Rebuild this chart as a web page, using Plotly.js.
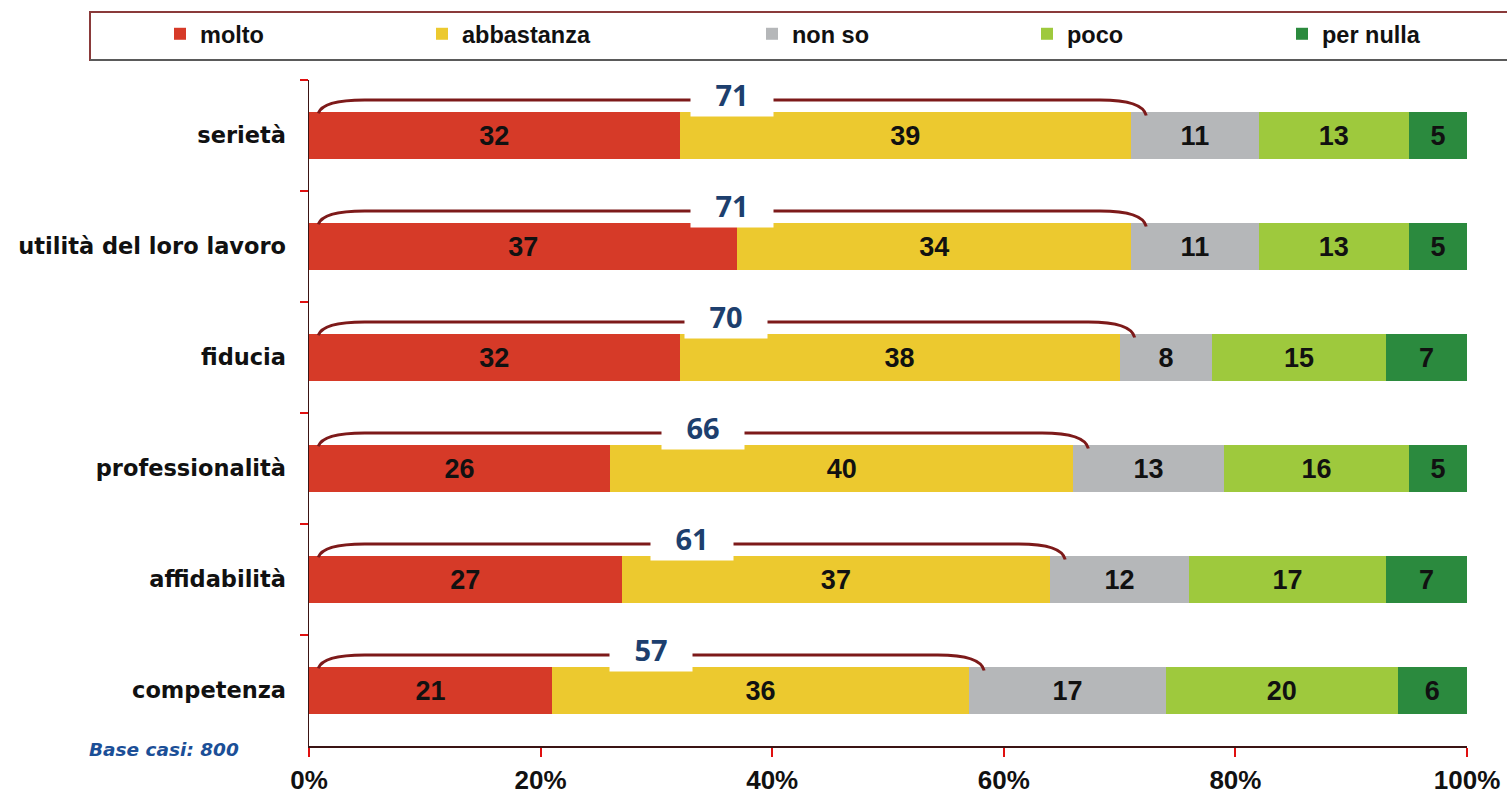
<!DOCTYPE html>
<html>
<head>
<meta charset="utf-8">
<script src="https://cdn.plot.ly/plotly-3.0.1.min.js"></script>
<style>html,body{margin:0;padding:0;background:#fff;}#chart{width:1507px;height:800px;}</style>
</head>
<body>
<div id="chart"></div>
<script>
// ---- data ----
var categories = ["serietà", "utilità del loro lavoro", "fiducia", "professionalità", "affidabilità", "competenza"];
var seriesNames = ["molto", "abbastanza", "non so", "poco", "per nulla"];
var molto      = [32, 37, 32, 26, 27, 21];
var abbastanza = [39, 34, 38, 40, 37, 36];
var nonSo      = [11, 11, 8, 13, 12, 17];
var poco       = [13, 13, 15, 16, 17, 20];
var perNulla   = [5, 5, 7, 5, 7, 6];
var totals     = [71, 71, 70, 66, 61, 57];
var xTickVals  = [0, 20, 40, 60, 80, 100];
var xTickText  = ["0%", "20%", "40%", "60%", "80%", "100%"];
var baseNote   = "Base casi: 800";

// ---- styling ----
var colors = ["#d63a28", "#ecc92f", "#b5b7b9", "#9ec93d", "#2b8a3e"];
var seriesValues = [molto, abbastanza, nonSo, poco, perNulla];
var legendIds = ["legend", "legend2", "legend3", "legend4", "legend5"];
var legendTextPx = [200, 462, 792, 1067, 1322];
var plotL = 309, plotR = 1467, plotT = 80, plotB = 746;
var pw = plotR - plotL, ph = plotB - plotT;
function px2x(p){ return (p - plotL) / pw; }
function py2y(p){ return (plotB - p) / ph; }

var barFont = {family: "Liberation Sans, Arial, sans-serif", size: 27, color: "#111", weight: "bold"};
var traces = seriesNames.map(function(name, k){
  return {
    type: "bar", orientation: "h", name: name,
    y: categories, x: seriesValues[k],
    marker: {color: colors[k], line: {width: 0}},
    text: seriesValues[k].map(String),
    textposition: "inside", insidetextanchor: "middle", textangle: 0,
    constraintext: "none",
    insidetextfont: barFont, textfont: barFont,
    hoverinfo: "x+y+name",
    legend: legendIds[k]
  };
});

var braceColor = "#7d1a1a";
var lineOff = 0.32, curlOff = 0.2;
var shapes = [];
var annotations = [];
categories.forEach(function(c, i){
  var x0 = 0.8;
  var xe = molto[i] + abbastanza[i] + 1.3;
  var yl = i - lineOff, yc = i - curlOff;
  var path = "M " + x0 + "," + (yc) +
             " Q " + (x0 + 0.4) + "," + yl + " " + (x0 + 4) + "," + yl +
             " L " + (xe - 4) + "," + yl +
             " Q " + (xe - 0.3) + "," + yl + " " + xe + "," + (yc + 0.02);
  shapes.push({type: "path", xref: "x", yref: "y", path: path,
               line: {color: braceColor, width: 3}, layer: "above"});
  annotations.push({
    xref: "x", yref: "y", x: (x0 + xe) / 2, y: i - 0.37,
    text: String(totals[i]), showarrow: false,
    bgcolor: "#ffffff", width: 80, height: 42,
    font: {family: "Open Sans, sans-serif", size: 29, color: "#1d3f6e", weight: "bold"}
  });
});

// legend box
shapes.push({type: "rect", xref: "paper", yref: "paper",
  x0: px2x(90), x1: px2x(1515), y0: py2y(60), y1: py2y(12),
  line: {color: "#8a3a3a", width: 2}, fillcolor: "rgba(0,0,0,0)", layer: "below"});
shapes.push({type: "line", xref: "paper", yref: "paper",
  x0: px2x(90), x1: px2x(1515), y0: py2y(60), y1: py2y(60),
  line: {color: "#5a5a5a", width: 2}});

annotations.push({
  xref: "paper", yref: "paper", x: px2x(241), y: py2y(749),
  xanchor: "right", yanchor: "middle", showarrow: false, text: baseNote,
  font: {family: "DejaVu Sans, sans-serif", size: 18.5, color: "#1b4f97", style: "italic", weight: "bold"}
});

var legendFont = {family: "Liberation Sans, Arial, sans-serif", size: 23.5, color: "#111", weight: "bold"};
var layout = {
  width: 1507, height: 800,
  margin: {l: plotL, r: 1507 - plotR, t: plotT, b: 800 - plotB, pad: 0, autoexpand: false},
  paper_bgcolor: "#ffffff", plot_bgcolor: "#ffffff",
  barmode: "stack", bargap: 0.585,
  showlegend: true,
  xaxis: {
    range: [0, 100], tickmode: "array", tickvals: xTickVals, ticktext: xTickText,
    showgrid: false, zeroline: false,
    showline: true, linecolor: "#3a1414", linewidth: 1.5,
    ticks: "outside", ticklen: 9, tickcolor: "#e01010", tickwidth: 2,
    tickfont: {family: "Liberation Sans, Arial, sans-serif", size: 26, color: "#111", weight: "bold"},
    ticklabelstandoff: 1, fixedrange: true, automargin: false
  },
  yaxis: {
    type: "category", range: [5.5, -0.5], autorange: false,
    showgrid: false, zeroline: false,
    showline: true, linecolor: "#3a1414", linewidth: 1.5,
    ticks: "outside", tickson: "boundaries", ticklen: 8, tickcolor: "#e01010", tickwidth: 2,
    tickfont: {family: "DejaVu Sans, sans-serif", size: 22.5, color: "#111", weight: "bold"},
    ticklabelstandoff: 17, fixedrange: true, automargin: false
  },
  shapes: shapes,
  annotations: annotations
};
legendIds.forEach(function(id, k){
  layout[id] = {
    x: px2x(legendTextPx[k] - 40), xanchor: "left",
    y: py2y(34), yanchor: "middle",
    orientation: "h", bgcolor: "rgba(0,0,0,0)", borderwidth: 0,
    font: legendFont, itemclick: false, itemdoubleclick: false
  };
});

Plotly.newPlot("chart", traces, layout, {displayModeBar: false, staticPlot: true});
</script>
</body>
</html>
